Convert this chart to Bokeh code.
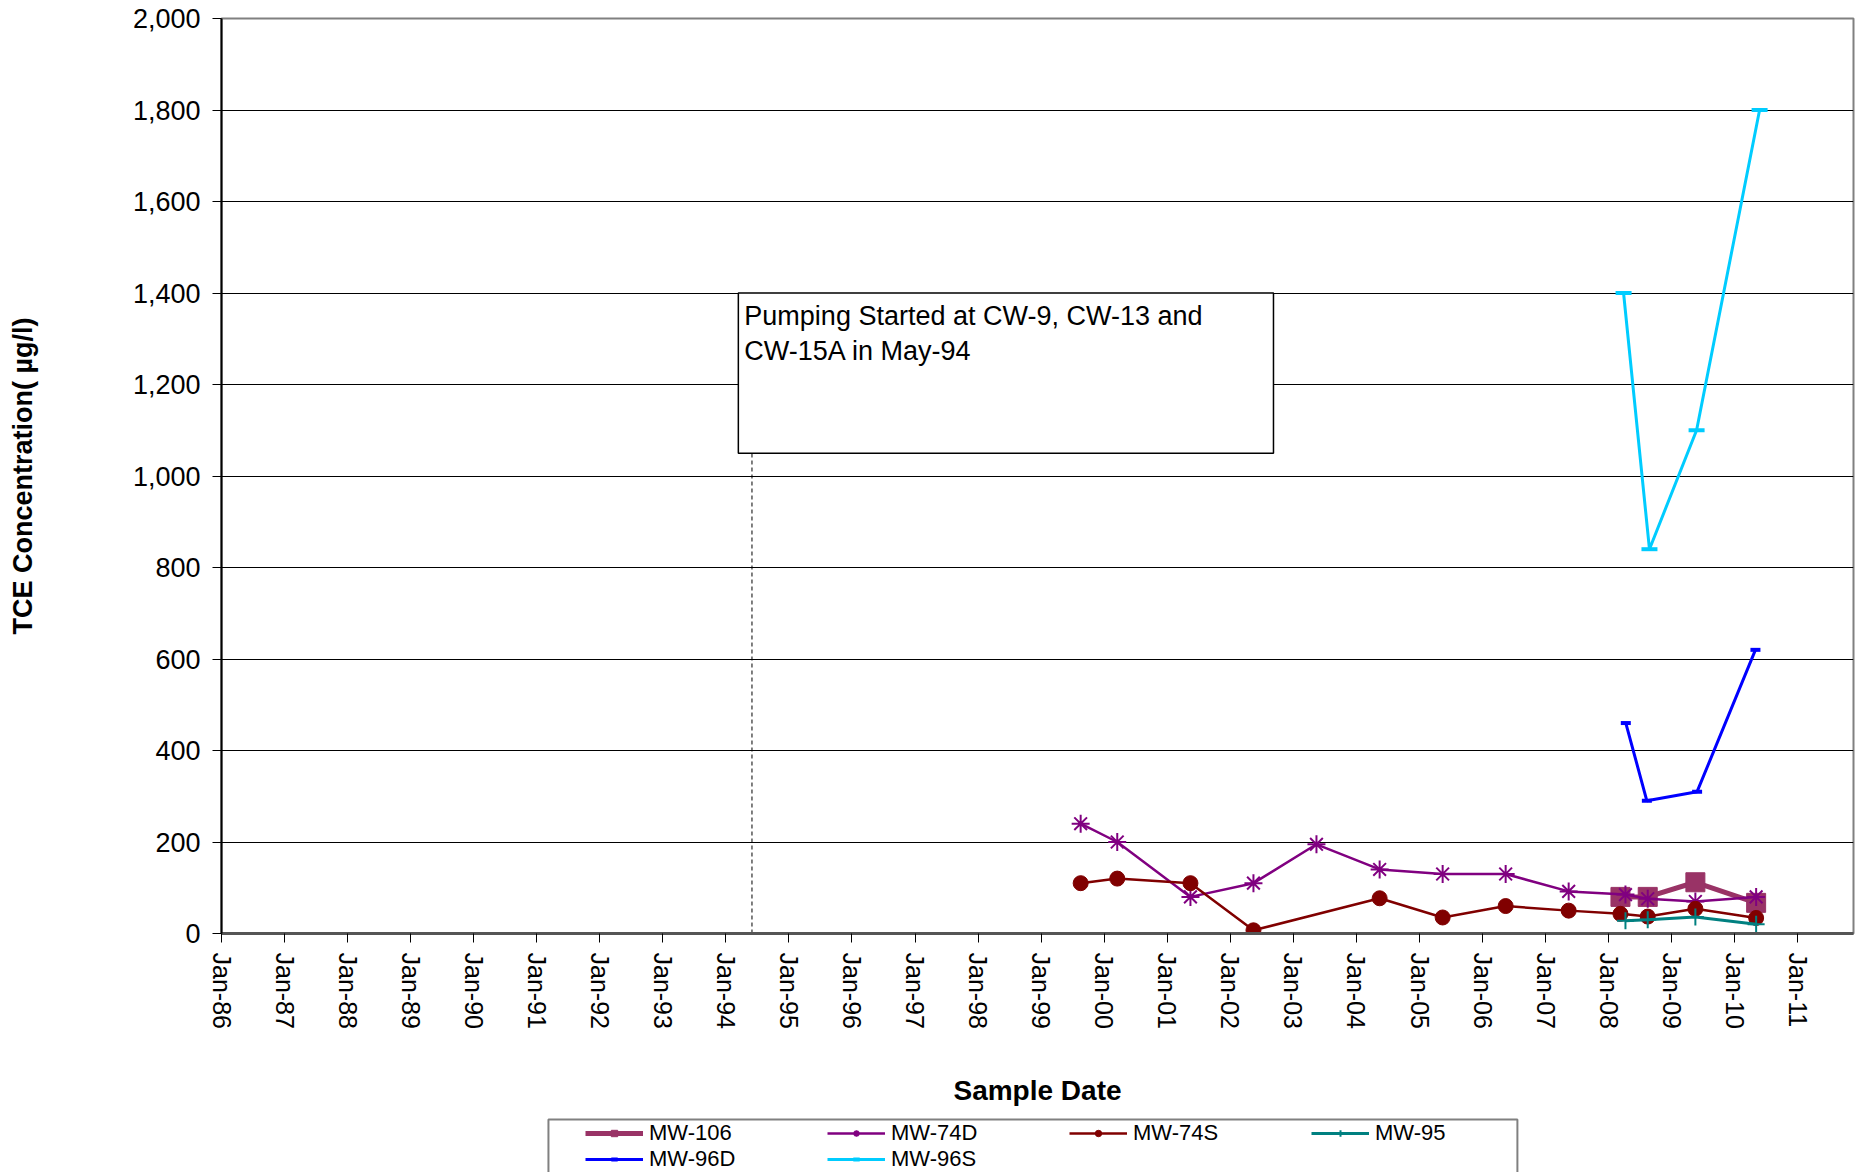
import pandas as pd
from bokeh.plotting import figure
from bokeh.layouts import column
from bokeh.models import (FixedTicker, DatetimeTickFormatter, NumeralTickFormatter, Range1d,
                          BoxAnnotation, Label, Legend, LegendItem)
from bokeh.embed import file_html
from bokeh.resources import INLINE

# ---------------- data ----------------
mw106_dates = ["2008-03-10", "2008-08-15", "2009-05-18", "2010-05-05"]
mw106_vals = [80, 80, 112, 67]

mw74d_dates = ["1999-08-18", "2000-03-17", "2001-05-15", "2002-05-15", "2003-05-15",
               "2004-05-15", "2005-05-15", "2006-05-15", "2007-05-15", "2008-04-08",
               "2008-08-15", "2009-05-18", "2010-05-05"]
mw74d_vals = [240, 200, 80, 110, 195, 140, 130, 130, 92, 85, 76, 70, 80]

mw74s_dates = ["1999-08-18", "2000-03-17", "2001-05-15", "2002-05-15", "2004-05-15",
               "2005-05-15", "2006-05-15", "2007-05-15", "2008-03-10", "2008-08-15",
               "2009-05-18", "2010-05-05"]
mw74s_vals = [110, 120, 110, 7, 77, 35, 60, 50, 43, 37, 54, 34]

mw95_dates = ["2008-04-08", "2008-08-15", "2009-05-18", "2010-05-05"]
mw95_vals = [28, 30, 36, 20]

mw96d_dates = ["2008-04-10", "2008-08-10", "2009-05-28", "2010-05-01"]
mw96d_vals = [460, 290, 310, 620]

mw96s_dates = ["2008-03-28", "2008-08-25", "2009-05-25", "2010-05-25"]
mw96s_vals = [1400, 840, 1100, 1800]

tick_years = list(range(1986, 2012))
y_ticks = list(range(0, 2001, 200))

pump_date = "1994-06-01"
note_lines = ["Pumping Started at CW-9, CW-13 and", "CW-15A in May-94"]


def ms(d):
    return pd.Timestamp(d).timestamp() * 1000.0


def dt(lst):
    return pd.to_datetime(lst)


FONT = "Liberation Sans"
X0, X1 = ms("1986-01-01"), ms("2011-11-20")

p = figure(width=1855, height=1110, x_axis_type="datetime",
           output_backend="svg", toolbar_location=None,
           x_range=Range1d(X0, X1), y_range=Range1d(0, 2000),
           min_border_left=221, min_border_top=18, min_border_right=2,
           min_border_bottom=177)
p.background_fill_color = "white"
p.border_fill_color = "white"
p.outline_line_color = "#808080"
p.outline_line_width = 2

# grid
p.xgrid.visible = False
p.ygrid.ticker = FixedTicker(ticks=y_ticks)
p.ygrid.grid_line_color = "black"
p.ygrid.grid_line_width = 1

# y axis
p.yaxis.ticker = FixedTicker(ticks=y_ticks)
p.yaxis.formatter = NumeralTickFormatter(format="0,0")
p.yaxis.major_tick_out = 9
p.yaxis.major_tick_in = 0
p.yaxis.minor_tick_line_color = None
p.yaxis.axis_line_color = "black"
p.yaxis.axis_line_width = 2
p.yaxis.major_label_standoff = 12
p.yaxis.major_label_text_font = FONT
p.yaxis.major_label_text_font_size = "27px"
p.yaxis.major_label_text_color = "black"
p.yaxis.axis_label = "TCE Concentration( \u00b5g/l)"
p.yaxis.axis_label_text_font = FONT
p.yaxis.axis_label_text_font_size = "27px"
p.yaxis.axis_label_text_font_style = "bold"
p.yaxis.axis_label_text_color = "black"
p.yaxis.axis_label_standoff = 92

# x axis
p.xaxis.ticker = FixedTicker(ticks=[ms(f"{y}-01-01") for y in tick_years])
fmt = "%b-%y"
p.xaxis.formatter = DatetimeTickFormatter(
    microseconds=fmt, milliseconds=fmt, seconds=fmt, minsec=fmt, minutes=fmt,
    hourmin=fmt, hours=fmt, days=fmt, months=fmt, years=fmt)
p.xaxis.major_label_orientation = "vertical"
p.xaxis.major_tick_out = 9
p.xaxis.major_tick_in = 0
p.xaxis.minor_tick_line_color = None
p.xaxis.axis_line_color = "#555555"
p.xaxis.axis_line_width = 3
p.xaxis.major_label_standoff = 10
p.xaxis.major_label_text_font = FONT
p.xaxis.major_label_text_font_size = "25px"
p.xaxis.major_label_text_color = "black"
p.xaxis.axis_label = "Sample Date"
p.xaxis.axis_label_text_font = FONT
p.xaxis.axis_label_text_font_size = "28px"
p.xaxis.axis_label_text_font_style = "bold"
p.xaxis.axis_label_text_color = "black"
p.xaxis.axis_label_standoff = 43

# annotation: dashed pumping line and text box
p.segment(x0=[ms(pump_date)], y0=[0], x1=[ms(pump_date)], y1=[1050],
          line_color="black", line_width=1, line_dash="4 3")
box = BoxAnnotation(left=ms("1994-03-14"), right=ms("2002-09-08"), bottom=1050, top=1400,
                    fill_color="white", fill_alpha=1.0, line_color="black",
                    line_alpha=1.0, line_width=1.5)
p.add_layout(box)
for i, line in enumerate(note_lines):
    p.add_layout(Label(x=ms("1994-03-14"), y=1400, x_offset=6, y_offset=-8 - 35 * i,
                       text=line, text_baseline="top", text_align="left",
                       text_font=FONT, text_font_size="27px", text_color="black"))

# series styles
series = [
    ("MW-106", mw106_dates, mw106_vals, "#993366", 5, dict(marker="square", size=19, fill_color="#993366", line_color="#993366")),
    ("MW-74D", mw74d_dates, mw74d_vals, "#800080", 2.5, dict(marker="asterisk", size=18, line_color="#800080", line_width=2)),
    ("MW-74S", mw74s_dates, mw74s_vals, "#800000", 2.5, dict(marker="circle", size=15, fill_color="#800000", line_color="#800000")),
    ("MW-95", mw95_dates, mw95_vals, "#008080", 3, dict(marker="cross", size=17, line_color="#008080", line_width=2)),
    ("MW-96D", mw96d_dates, mw96d_vals, "#0000FF", 3, dict(marker="dash", size=10, line_color="#0000FF", line_width=4)),
    ("MW-96S", mw96s_dates, mw96s_vals, "#00CCFF", 3, dict(marker="dash", size=16, line_color="#00CCFF", line_width=4)),
]

for name, dts, vals, col, lw, mk in series:
    p.line(dt(dts), vals, line_color=col, line_width=lw)
    p.scatter(dt(dts), vals, **mk)

# legend strip (separate figure below the chart, same glyph styles, data kept off-view)
p2 = figure(width=1855, height=62, x_axis_type="datetime", output_backend="svg",
            toolbar_location=None, x_axis_location=None, y_axis_location=None,
            x_range=Range1d(X0, X1), y_range=Range1d(-3000, -2000), min_border=0)
p2.outline_line_color = None
p2.grid.visible = False
p2.background_fill_color = "white"
p2.border_fill_color = "white"

# legend frame box
p2.add_layout(BoxAnnotation(left=ms("1991-03-10"), right=ms("2006-07-22"),
                            top=-2145, bottom=-3200,
                            fill_color="white", fill_alpha=1.0,
                            line_color="#808080", line_alpha=1.0, line_width=2))

items = []
for name, dts, vals, col, lw, mk in series:
    rl = p2.line(dt(dts), vals, line_color=col, line_width=lw)
    rm = p2.scatter(dt(dts), vals, **mk)
    items.append(LegendItem(label=name, renderers=[rl, rm]))

legend = Legend(items=items, orientation="horizontal", ncols=4, location=(364, 0),
                label_text_font=FONT, label_text_font_size="22px", label_text_color="black",
                glyph_width=58, glyph_height=16, label_width=178, label_height=16,
                label_standoff=6, spacing=0, padding=2, margin=0,
                border_line_color=None, background_fill_alpha=0.0)
p2.add_layout(legend, "center")

layout = column(p, p2, spacing=0)
open("out.html", "w").write(file_html(layout, INLINE))
